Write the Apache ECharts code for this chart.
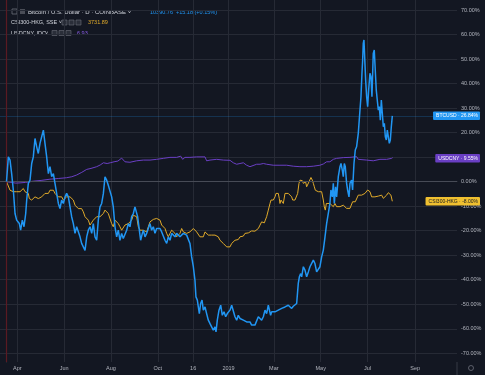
<!DOCTYPE html>
<html><head><meta charset="utf-8">
<script src="https://cdn.jsdelivr.net/npm/echarts@6/dist/echarts.min.js"></script>
<style>html,body{margin:0;padding:0;background:#131722;overflow:hidden}#c{width:485px;height:375px}</style>
</head><body><div id="c"></div>
<script>
// day offsets are counted from 2018-03-18 (first bar of the comparison)
const baseDay = [2018, 2, 18];
const tickDates = ['2018-04-01','2018-06-01','2018-08-01','2018-10-01','2018-11-16','2019-01-01','2019-03-01','2019-05-01','2019-07-01','2019-09-01'];
const tickLabels = ['Apr','Jun','Aug','Oct','16','2019','Mar','May','Jul','Sep'];
const yTicks = [-70,-60,-50,-40,-30,-20,-10,0,10,20,30,40,50,60,70];
const yRange = [-73.55, 74.08];
const xRangeDays = [-8.46, 586.4];

// BTCUSD % change [day, %]
const btc = [[0,0],[2.4,10.1],[4.6,8.8],[6.7,3.3],[8.9,-3.5],[11.1,-13],[13.2,-15.7],[16.7,-17.1],[18.4,-19.8],[20.6,-15.7],[22.8,-18.4],[25,-13],[26.3,-7.5],[28.4,-0.7],[30.6,0.6],[32.8,7.4],[34.9,10.1],[37.1,17.6],[39.3,14.2],[41.4,11.5],[43.6,15.6],[45.8,18.3],[48,21],[50.1,15.6],[52.3,10.1],[54.5,3.3],[56.6,6.1],[58.8,2],[61,3.3],[63.1,-0.7],[65.3,-4.8],[67.5,-8.9],[69.6,-11],[71.8,-7.5],[74,-8.9],[76.2,-6.2],[78.3,-4.8],[80.5,-6.2],[82.7,-10.3],[84.8,-14.3],[87,-17.1],[89.2,-21.1],[91.3,-18.4],[93.5,-17.7],[95.7,-22.5],[97.8,-25.2],[100,-26.6],[102.2,-28],[104.4,-22.5],[106.5,-19.8],[108.7,-18.4],[110.9,-21.1],[113,-17.1],[115.2,-22.5],[117.4,-23.9],[119.5,-15.7],[121.7,-10.3],[123.9,-8.9],[126.1,-4.8],[128.2,2],[130.4,0.6],[132.5,-1.5],
[134.7,-0.8],[136.9,-6.2],[139,-10.3],[141.2,-18.4],[143.4,-22.5],[145.5,-19.8],[147.7,-23.9],[149.9,-21.1],[152,-23.2],[154.2,-23.9],[156.4,-19.8],[158.6,-17.1],[160.7,-18.4],[162.9,-14.3],[165.1,-13],[167.2,-10.3],[169.4,-9.6],[170.7,-14.3],[172.9,-19.8],[174.6,-23.9],[176.8,-21.1],[178.1,-19.8],[180.3,-22.5],[182.4,-21.1],[184.6,-19.1],[186.8,-17.1],[188.9,-19.8],[191.1,-18.4],[193.3,-21.1],[195.4,-19.1],[197.6,-19.8],[199.8,-19.1],[202,-20.5],[204.1,-19.8],[206.3,-23.9],[208.5,-25.2],[210.6,-22.5],[212.8,-23.9],[215,-21.1],[217.1,-21.8],[219.3,-22.5],[221.5,-21.1],[223.6,-21.8],[225.8,-22.5],[228,-21.8],[230.2,-21.1],[232.3,-20.5],[234.5,-21.8],[236.7,-22.5],[238.8,-25.2],[241,-30.7],[243.2,-34.7],[245.3,-40.2],[246.6,-47],[248.4,-48.3],[249.7,-51.1],[251,-53.8],[252.7,-49.7],[254.5,-48.3],[256.2,-52.4],[258.4,-51.1],[260.5,-53.8],[262.7,-56.5],[264.9,-57.9],[267,-59.2],[269.2,-60.6],[271.4,-59.2],[272.7,-61.3],[274.4,-56.5],[276.6,-52.4],[278.8,-50.4],[280.9,-54.5],[283.1,-53.1],[285.3,-55.1],[287.4,-53.8],[289.6,-54.5],
[290.9,-52.4],[293.1,-50.4],[295.2,-51.1],[297.4,-55.1],[299.6,-56.5],[301.7,-54.5],[303.9,-55.8],[306.1,-55.1],[308.3,-56.5],[310.4,-55.8],[312.6,-57.2],[314.8,-57.9],[316.9,-57.2],[319.1,-58.5],[321.3,-57.9],[323.4,-58.5],[325.6,-57.9],[327.8,-55.1],[330,-55.8],[332.1,-56.5],[334.3,-55.1],[336.5,-52.4],[338.6,-53.8],[340.8,-50.4],[342.1,-51.1],[343.8,-54.5],[345.1,-53.1],[347.3,-53.8],[349.5,-53.1],[351.6,-53.8],[353.8,-52.4],[356,-52.4],[358.2,-51.7],[360.3,-52.2],[362.5,-51.1],[364.7,-51.7],[366.8,-50.4],[369,-51.1],[371.2,-51.7],[373.3,-50.8],[375.5,-50.4],[377.7,-49.7],[379.8,-41.5],[381.2,-38.8],[382.9,-37.5],[384.2,-38.8],[386.4,-34.7],[388.5,-36.1],[390.7,-38.8],[392.9,-36.8],[395,-34.7],[397.2,-35.4],[399.4,-32],[401.5,-33.4],[403.7,-36.8],[405.9,-36.1],[408,-34.7],[410.2,-30.7],[412.4,-27.9],[414.6,-22.5],[416.7,-17.1],
[421,-8.9],[422.3,-3.4],[424.1,-6.2],[425.4,-0.7],[426.7,-8.9],[428.4,-2.1],[429.7,-6.2],[431.9,2],[434.1,6.1],[435.4,7.4],[437.1,4.7],[438.4,2],[439.7,7.4],[441,6.1],[442.7,-0.7],[444,-3.4],[445.8,-6.2],[447.1,-0.7],[449.2,0.6],[450.5,-3.4],[452.3,7.4],[454,12.9],[455.7,14.2],[457.9,19.7],[460.1,29.2],[461.4,34.6],[462.7,44.2],[463.6,49.6],[464.4,56.4],[465.3,57.8],[466.2,51],[467.5,41.4],[468.8,34.6],[470.1,30.6],[471.4,37.4],[473.1,44.2],[474.4,42.8],[475.7,34.6],[477.4,52.3],[478.7,53.7],[480,45.5],[481.3,37.4],[482.6,33.3],[484,29.2],[485.3,30.6],[486.6,25.1],[487.9,33.3],[489.2,27.8],[490.5,22.4],[491.8,23.8],[493.1,18.3],[494.4,17],[495.7,21],[497,18.3],[498.3,15.6],[499.6,17],[500.9,22.4],[502.2,26.84]];

// CSI300-HKG % change [day, %]
const csi = [[0,0],[2.4,-0.7],[4.6,-3.5],[6.7,-2.8],[8.9,-4.1],[11.1,-3.5],[13.2,-4.1],[15.4,-4.8],[17.6,-4.1],[19.7,-4.8],[21.9,-2.8],[24.1,-4.1],[26.3,-4.8],[28.4,-4.8],[29.7,-6.9],[31.5,-6.2],[32.8,-7.5],[34.9,-6.9],[37.1,-6.2],[39.3,-6.9],[41.4,-6.9],[43.6,-6.9],[45.8,-6.2],[48,-5.5],[50.1,-4.8],[52.3,-4.1],[54.5,-4.8],[56.6,-3.5],[58.8,-4.1],[61,-3.5],[63.1,-4.8],[65.3,-5.5],[67.5,-6.2],[69.6,-5.5],[71.8,-6.2],[74,-7.5],[76.2,-6.9],[78.3,-6.2],[80.5,-6.9],[82.7,-6.2],[84.8,-6.9],[87,-7.5],[89.2,-9.6],[91.3,-10.3],[93.5,-11],[95.7,-11.6],[97.8,-11],[100,-12.3],[102.2,-14.3],[104.4,-13.7],[106.5,-15.7],[108.7,-17.7],[110.9,-17.1],[113,-15.7],[115.2,-15],[117.4,-14.3],[119.5,-15],[121.7,-14.3],[123.9,-13.7],[126.1,-13],[128.2,-11.6],[130.4,-12.3],[132.5,-13],
[134.7,-13],[136.9,-17.1],[139,-18.4],[141.2,-15.7],[143.4,-16.4],[145.5,-17.1],[147.7,-18.4],[149.9,-19.8],[152,-19.1],[154.2,-17.7],[156.4,-18.4],[158.6,-17.1],[160.7,-16.4],[162.9,-15.7],[165.1,-13.7],[167.2,-13.7],[169.4,-14.3],[171.6,-18.4],[173.8,-19.8],[175.9,-20.5],[178.1,-19.8],[180.3,-19.1],[182.4,-20.5],[184.6,-18.4],[186.8,-16.4],[188.9,-15.7],[191.1,-15.4],[193.3,-15],[195.4,-15],[197.6,-15],[199.8,-15.7],[202,-17.7],[204.1,-18.4],[206.3,-19.1],[208.5,-21.1],[210.6,-22.5],[212.8,-21.1],[215,-19.8],[217.1,-19.1],[219.3,-21.1],[221.5,-22.5],[223.6,-23.2],[225.8,-21.1],[228,-19.1],[230.2,-20.5],[232.3,-19.8],[234.5,-21.1],[236.7,-21.8],[238.8,-20.5],[241,-19.8],[243.2,-19.1],[245.3,-18.4],[247.5,-20.5],[249.7,-21.1],[251.8,-22.5],[254,-21.8],[256.2,-22.5],[258.4,-20.5],[260.5,-19.8],[262.7,-21.8],[264.9,-22.5],[267,-21.8],[269.2,-21.1],[271.4,-21.8],[273.5,-21.8],[275.7,-22.5],[277.9,-23.9],[280,-24.5],[282.2,-25.2],[284.4,-25.9],[286.6,-26.6],[288.7,-26.3],
[290.9,-26.6],[293.1,-25.2],[295.2,-24.5],[297.4,-23.9],[299.6,-23.2],[301.7,-23.6],[303.9,-22.5],[306.1,-21.8],[308.3,-22.2],[310.4,-21.1],[312.6,-21.8],[314.8,-20.9],[316.9,-20.5],[319.1,-20.1],[321.3,-19.8],[323.4,-20.2],[325.6,-19.8],[327.8,-19.1],[330,-17.7],[332.1,-16.4],[334.3,-15.7],[335.6,-16.8],[336.9,-15.7],[338.6,-14.3],[340.8,-11.6],[343,-8.9],[344.3,-7.5],[346,-8.2],[347.3,-7.5],[349.5,-6.2],[350.8,-4.8],[352.5,-5.5],[353.8,-4.8],[355.1,-6.9],[356,-8.9],[357.3,-7.5],[359.5,-7.5],[360.3,-8.9],[362.5,-4.8],[364.7,-5.5],[366.8,-4.8],[369,-4.8],[371.2,-6.2],[372.5,-7.5],[374.2,-8.2],[375.5,-7.5],[377.7,-6.9],[379,-4.8],[380.7,-0.7],[382,0.6],[383.3,-0.1],[385.1,0.4],[386.4,-0.7],[388.1,-1.4],[389.4,-0.1],[390.7,-2.1],[392,-1.4],[393.7,-0.1],[395,0.6],[396.3,1.7],[398.1,0.6],[399.4,-0.7],[400.7,-2.1],[402,-3.5],[403.7,-4.1],[405.9,-4.1],[408,-3.5],[410.2,-4.1],[412.4,-7.5],[413.7,-10.3],[415,-11.6],[416.3,-8.9],[417.6,-8.2],[418.9,-9.6],
[421,-8.9],[423.2,-8.2],[425.4,-10.2],[427.5,-8.9],[429.7,-10.2],[431.9,-10.9],[434.1,-10.2],[436.2,-10.9],[438.4,-9.6],[440.6,-10.2],[442.7,-10.9],[444.9,-11.6],[447.1,-10.9],[449.2,-10.2],[450.5,-8.2],[452.3,-8.9],[454,-8.2],[455.7,-7.5],[457.9,-5.5],[460.1,-6.2],[462.3,-5.5],[464.4,-6.2],[466.6,-4.8],[468.8,-5.5],[470.1,-3.4],[471.8,-2.8],[473.1,-4.1],[475.3,-6.2],[477.4,-5.5],[479.6,-6.2],[481.8,-5.5],[484,-5.9],[486.1,-6.2],[488.3,-5.5],[490.5,-6.8],[492.6,-6.2],[494.8,-5.5],[497,-4.5],[499.1,-4.8],[500.4,-5.5],[502.2,-8.0]];

// USDCNY % change [day, %]
const cny = [[0,0],[6,-0.3],[12,-0.6],[17.6,-0.5],[25,-0.3],[34.9,0.2],[45,0.5],[56.6,1.0],[68,1.3],[78.3,1.6],[85,2.0],[91.3,2.7],[98,3.8],[104.4,5],[110,5.4],[117.4,6.1],[122,6.8],[126.1,7.7],[131,7.4],[135,7.7],[140,8.1],[145,8.4],[149.9,9.6],[152,8.8],[154.2,8.1],[160.7,7.9],[169.4,8.5],[178.1,8.8],[186.8,8.8],[195.4,9.1],[204.1,9.5],[212.8,9.9],[221.5,9.9],[226.7,10.4],[229.3,9.1],[232.3,9.9],[238.8,9.9],[247.5,10.1],[258.4,10.1],[260.5,8.5],[264.9,8.8],[273.5,9.1],[282.2,8.8],[290.9,8.7],[295.2,7.7],[299.6,7.1],[303.9,7.4],[308.3,7.7],[312.6,6.7],[316.9,6.1],[319.1,6.3],[325.6,7.1],[330,7.1],[334.3,7.4],[338.6,7.1],[347.3,6.7],[356,6.7],[364.7,6.7],[373.3,6.3],[382,6.1],[390.7,6.1],[399.4,6.3],[408,6.7],[412.4,7.2],[416.7,8.1],[421,8.1],[425.4,9.1],[429.7,9.5],[438.4,9.8],[447.1,9.9],[455.7,10.2],[457.9,9.1],[460.1,8.5],[468.8,8.8],[477.4,8.5],[486.1,9.1],[494.8,9.1],[501.3,9.5],[502.6,9.8]];

const endNames = ['BTCUSD','USDCNY','CSI300-HKG'];
const endValues = [26.84, 9.55, -8.00];
const colors = {btc:'#2196f3', cny:'#6a3fc4', csi:'#e0aa2a'};

const DAY = 86400000;
const base = Date.UTC(baseDay[0], baseDay[1], baseDay[2]);
const tickDays = tickDates.map(s => { const p = s.split('-'); return Math.round((Date.UTC(+p[0], +p[1]-1, +p[2]) - base) / DAY); });
const xMax = xRangeDays[1];
const FONT = '"Liberation Sans", Arial, sans-serif';

function endMark(i, bg, fg) {
  return {
    symbol: 'rect', symbolSize: [1, 1], silent: true,
    itemStyle: {color: 'rgba(0,0,0,0)'},
    data: [{coord: [xMax, endValues[i]], value: endValues[i]}],
    label: {show: true, position: 'inside', align: 'right', offset: [23, 0],
      formatter: () => endNames[i] + ' · ' + endValues[i].toFixed(2) + '%',
      backgroundColor: bg, color: fg, fontSize: 5, fontFamily: FONT, padding: [2, 2, 1.5, 3], borderRadius: 1}
  };
}

const chart = echarts.init(document.getElementById('c'), null, {renderer: 'canvas'});
chart.setOption({
  backgroundColor: '#131722',
  animation: false,
  grid: {left: 0, right: 28, top: 0, bottom: 13},
  xAxis: {
    type: 'value', min: xRangeDays[0], max: xMax,
    axisLine: {show: true, lineStyle: {color: '#363a45'}},
    axisTick: {show: false, customValues: tickDays},
    axisLabel: {customValues: tickDays, color: '#b2b5be', fontSize: 5.5, fontFamily: FONT, margin: 3,
      formatter: v => { const k = tickDays.indexOf(Math.round(v)); return k >= 0 ? tickLabels[k] : ''; }},
    splitLine: {show: true, lineStyle: {color: '#262a35', width: 1}}
  },
  yAxis: {
    type: 'value', position: 'right', min: yRange[0], max: yRange[1],
    axisLine: {show: true, lineStyle: {color: '#363a45'}},
    axisTick: {show: false, customValues: yTicks},
    axisLabel: {customValues: yTicks, color: '#b2b5be', fontSize: 5.5, fontFamily: FONT, margin: 4,
      formatter: v => v.toFixed(2) + '%'},
    splitLine: {show: true, lineStyle: {color: '#262a35', width: 1}}
  },
  series: [
    {name: 'USDCNY', type: 'line', data: cny, showSymbol: false, symbol: 'none',
      lineStyle: {color: colors.cny, width: 1}, itemStyle: {color: colors.cny}, z: 3,
      markPoint: endMark(1, colors.cny, '#ffffff')},
    {name: 'CSI300-HKG', type: 'line', data: csi, showSymbol: false, symbol: 'none',
      lineStyle: {color: colors.csi, width: 1}, itemStyle: {color: colors.csi}, z: 4,
      markPoint: endMark(2, '#f0c030', '#131722')},
    {name: 'BTCUSD', type: 'line', data: btc, showSymbol: false, symbol: 'none',
      lineStyle: {color: colors.btc, width: 1.5}, itemStyle: {color: colors.btc}, z: 5,
      markLine: {silent: true, symbol: 'none', label: {show: false}, animation: false,
        data: [
          {yAxis: 0, lineStyle: {color: '#474b56', width: 1, type: 'solid'}},
          {yAxis: endValues[0], lineStyle: {color: 'rgba(33,150,243,0.22)', width: 1, type: 'solid'}},
          {xAxis: btc[0][0] - 0.5, lineStyle: {color: '#5a1a22', width: 1.2, type: 'solid'}}
        ]},
      markPoint: endMark(0, colors.btc, '#ffffff')}
  ],
  graphic: [
    {type: 'rect', shape: {x: 12, y: 9, width: 5, height: 5}, style: {fill: 'none', stroke: '#6b6e78', lineWidth: 0.8}},
    {type: 'rect', shape: {x: 20, y: 9, width: 5, height: 5}, style: {fill: '#4a4d57'}},
    {type: 'text', x: 28, y: 12, style: {text: 'Bitcoin / U.S. Dollar · D · COINBASE ˅', fill: '#d1d4dc', font: '6px ' + FONT, verticalAlign: 'middle'}},
    {type: 'text', x: 150, y: 12, style: {text: '10390.76  +15.18 (+0.15%)', fill: colors.btc, font: '5.5px ' + FONT, verticalAlign: 'middle'}},
    {type: 'text', x: 11, y: 22.5, style: {text: 'CSI300-HKG, SSE ˅', fill: '#d1d4dc', font: '5.5px ' + FONT, verticalAlign: 'middle'}},
    {type: 'rect', shape: {x: 62, y: 20, width: 5, height: 5}, style: {fill: '#2a2e39', stroke: '#6b6e78', lineWidth: 0.6}},
    {type: 'rect', shape: {x: 69, y: 20, width: 5, height: 5}, style: {fill: '#2a2e39', stroke: '#6b6e78', lineWidth: 0.6}},
    {type: 'rect', shape: {x: 76, y: 20, width: 5, height: 5}, style: {fill: '#2a2e39', stroke: '#6b6e78', lineWidth: 0.6}},
    {type: 'text', x: 88, y: 22.5, style: {text: '3731.89', fill: colors.csi, font: '5.5px ' + FONT, verticalAlign: 'middle'}},
    {type: 'text', x: 11, y: 33, style: {text: 'USDCNY, IDC', fill: '#d1d4dc', font: '5.5px ' + FONT, verticalAlign: 'middle'}},
    {type: 'text', x: 45, y: 33, style: {text: '˅', fill: '#d1d4dc', font: '5.5px ' + FONT, verticalAlign: 'middle'}},
    {type: 'rect', shape: {x: 52, y: 30.5, width: 5, height: 5}, style: {fill: '#2a2e39', stroke: '#6b6e78', lineWidth: 0.6}},
    {type: 'rect', shape: {x: 59, y: 30.5, width: 5, height: 5}, style: {fill: '#2a2e39', stroke: '#6b6e78', lineWidth: 0.6}},
    {type: 'rect', shape: {x: 66, y: 30.5, width: 5, height: 5}, style: {fill: '#2a2e39', stroke: '#6b6e78', lineWidth: 0.6}},
    {type: 'text', x: 77, y: 33, style: {text: '6.93', fill: '#8a5ce6', font: '5.5px ' + FONT, verticalAlign: 'middle'}},
    {type: 'line', shape: {x1: 457, y1: 362, x2: 457, y2: 375}, style: {stroke: '#363a45', lineWidth: 1}},
    {type: 'circle', shape: {cx: 471, cy: 368, r: 2.5}, style: {fill: 'none', stroke: '#787b86', lineWidth: 0.7}}
  ]
});
</script></body></html>
